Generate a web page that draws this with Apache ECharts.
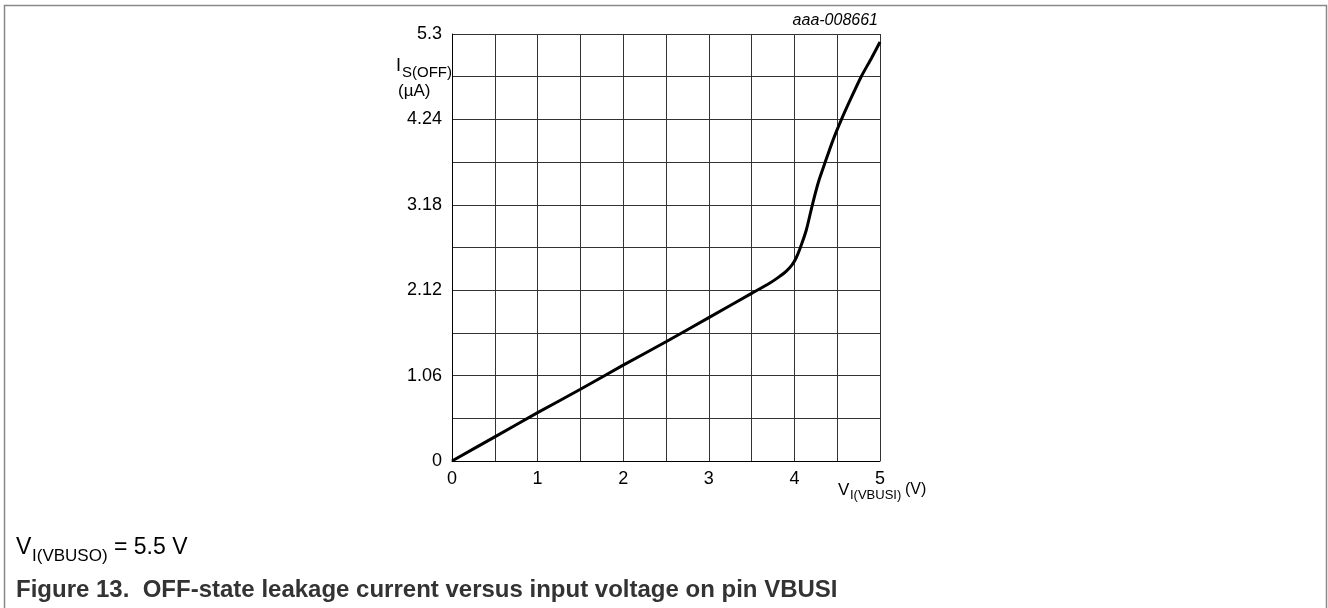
<!DOCTYPE html>
<html>
<head>
<meta charset="utf-8">
<script src="https://cdn.jsdelivr.net/npm/echarts@6/dist/echarts.min.js"></script>
<style>
html,body{margin:0;padding:0;background:#fff;}
#mapContain{width:1328px;height:608px;}
</style>
</head>
<body>
<div id="mapContain"></div>
<script>
// 输入电压 V_I(VBUSI) (V)
var vinValues = [0, 0.5, 1, 1.5, 2, 2.5, 3, 3.5, 3.7, 3.8, 3.9, 3.97, 4.02, 4.07, 4.14, 4.21, 4.28, 4.36, 4.45, 4.55, 4.66, 4.78, 4.9, 5.0];
// 漏电流 I_S(OFF) (uA)
var isOffValues = [0, 0.30, 0.60, 0.89, 1.19, 1.48, 1.78, 2.08, 2.20, 2.27, 2.35, 2.43, 2.52, 2.65, 2.87, 3.18, 3.46, 3.71, 3.98, 4.24, 4.50, 4.77, 5.00, 5.20];
var yStep = 0.53;
var xStep = 0.5;

var seriesData = [];
for (var i = 0; i < vinValues.length; i++) {
	seriesData.push([vinValues[i], isOffValues[i]]);
}

var font = 'Liberation Sans, Arial, sans-serif';
var gridColor = '#333';

var option = {
	animation: false,
	backgroundColor: '#fff',
	grid: {left: 452, top: 34, width: 428, height: 427},
	xAxis: {
		type: 'value',
		min: 0, max: 5, interval: xStep,
		axisLine: {show: true, lineStyle: {color: '#000', width: 1}},
		axisTick: {show: false},
		splitLine: {show: true, lineStyle: {color: gridColor, width: 1}},
		axisLabel: {
			color: '#000', fontSize: 18, fontFamily: font, margin: 9,
			formatter: function (v) {
				return Math.abs(v - Math.round(v)) < 1e-6 ? String(Math.round(v)) : '';
			}
		}
	},
	yAxis: {
		type: 'value',
		min: 0, max: 5.3, interval: yStep,
		axisLine: {show: true, lineStyle: {color: '#000', width: 1}},
		axisTick: {show: false},
		splitLine: {show: true, lineStyle: {color: gridColor, width: 1}},
		axisLabel: {
			color: '#000', fontSize: 18, fontFamily: font, margin: 10,
			formatter: function (v) {
				var k = Math.round(v / yStep);
				if (k % 2) return '';
				return String(+(k * yStep).toFixed(2));
			}
		}
	},
	graphic: [
		// 外框
		{type: 'polyline', shape: {points: [[4.5, 608], [4.5, 5.5], [1326.5, 5.5], [1326.5, 608]]},
			style: {stroke: '#888', lineWidth: 1.5, fill: null}},
		{type: 'text', right: 450, top: 13, style: {text: 'aaa-008661', font: 'italic 16px ' + font, fill: '#000'}},
		// y轴名称
		{type: 'text', left: 396, top: 57, style: {text: 'I', font: '18px ' + font, fill: '#000'}},
		{type: 'text', left: 402, top: 65, style: {text: 'S(OFF)', font: '15px ' + font, fill: '#000'}},
		{type: 'text', left: 398, top: 83, style: {text: '(µA)', font: '17px ' + font, fill: '#000'}},
		// x轴名称
		{type: 'text', left: 838, top: 482, style: {text: 'V', font: '17px ' + font, fill: '#000'}},
		{type: 'text', left: 850, top: 489, style: {text: 'I(VBUSI)', font: '13px ' + font, fill: '#000'}},
		{type: 'text', left: 905, top: 482, style: {text: '(V)', font: '16px ' + font, fill: '#000'}},
		// 条件与标题
		{type: 'text', left: 16, top: 536, style: {text: 'V', font: '23px ' + font, fill: '#000'}},
		{type: 'text', left: 32, top: 548, style: {text: 'I(VBUSO)', font: '17px ' + font, fill: '#000'}},
		{type: 'text', left: 114, top: 536, style: {text: '= 5.5 V', font: '23px ' + font, fill: '#000'}},
		{type: 'text', left: 16, top: 578, style: {text: 'Figure 13.  OFF-state leakage current versus input voltage on pin VBUSI', font: 'bold 24px ' + font, fill: '#333'}}
	],
	series: [
		{
			type: 'line',
			data: seriesData,
			showSymbol: false,
			smooth: 0.2,
			lineStyle: {color: '#000', width: 3},
			silent: true
		}
	]
};

var mCharts = echarts.init(document.getElementById('mapContain'));
mCharts.setOption(option);
</script>
</body>
</html>
